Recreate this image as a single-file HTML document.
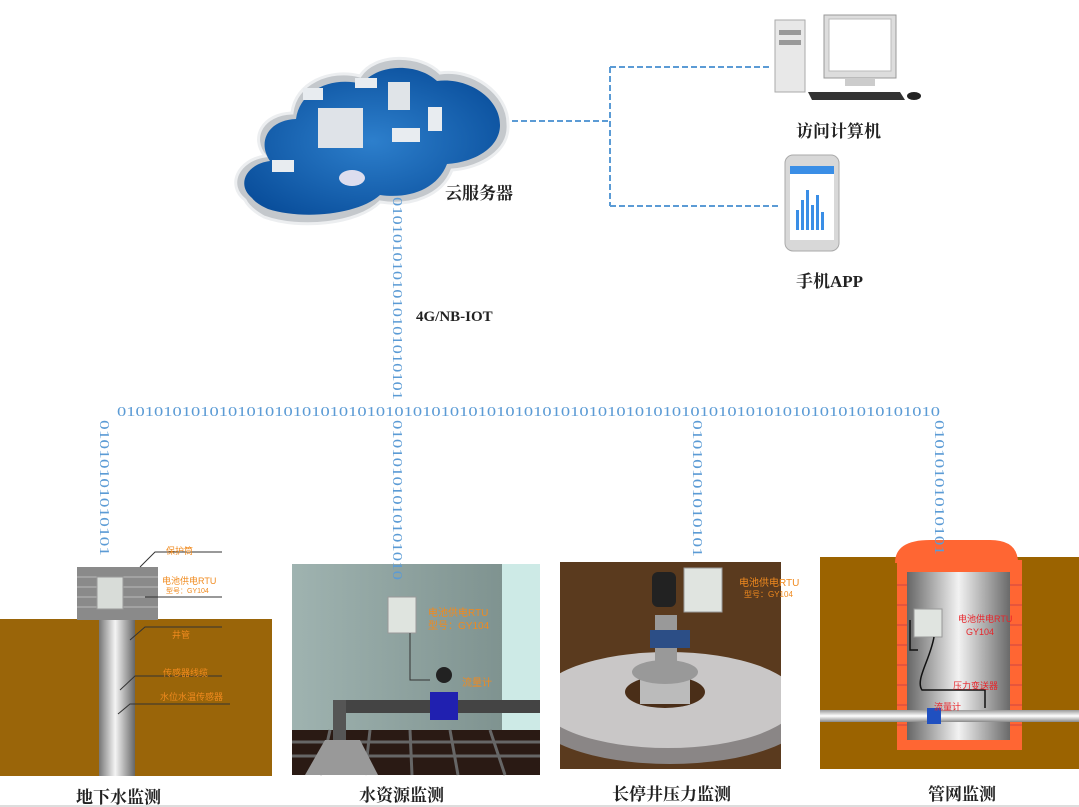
<!DOCTYPE html>
<html><head><meta charset="utf-8"><style>
body{margin:0;width:1079px;height:807px;background:#fff;overflow:hidden;position:relative;font-family:"Liberation Serif","Noto Serif CJK SC",serif}
svg{position:absolute;left:0;top:0}
</style></head><body>
<svg width="1079" height="807" viewBox="0 0 1079 807" xmlns="http://www.w3.org/2000/svg">
<defs>
<linearGradient id="pipe" x1="0" x2="1"><stop offset="0" stop-color="#777"/><stop offset=".45" stop-color="#f4f4f4"/><stop offset="1" stop-color="#666"/></linearGradient>
<linearGradient id="hpipe" y1="0" y2="1" x1="0" x2="0"><stop offset="0" stop-color="#999"/><stop offset=".5" stop-color="#fff"/><stop offset="1" stop-color="#888"/></linearGradient>
<linearGradient id="wall" x1="0" x2="1"><stop offset="0" stop-color="#9fb3b0"/><stop offset="1" stop-color="#7f9390"/></linearGradient>
<linearGradient id="cyl" x1="0" x2="1"><stop offset="0" stop-color="#666"/><stop offset=".5" stop-color="#f2f2f2"/><stop offset="1" stop-color="#6a6a6a"/></linearGradient>
<radialGradient id="cloud" cx=".5" cy=".5" r=".6"><stop offset="0" stop-color="#2d7fcc"/><stop offset="1" stop-color="#0a4f9c"/></radialGradient>
<clipPath id="p3"><rect x="560" y="562" width="221" height="207"/></clipPath>
</defs>
<!-- cloud -->
<path d="M245,200 C226,185 238,160 265,156 C250,138 262,114 292,113 C295,83 330,68 360,76 C375,53 420,53 440,73 C472,68 508,93 508,124 C510,150 482,168 452,170 C442,196 410,207 380,202 C358,224 300,230 264,217 C255,212 248,206 245,200 Z" fill="#c4c8cc" stroke="#eceef0" stroke-width="3"/>
<path d="M252,198 C236,185 246,164 270,161 C257,142 268,120 296,119 C300,90 332,76 362,84 C378,63 418,63 437,81 C468,77 500,98 500,125 C500,147 476,162 447,164 C437,190 408,199 380,195 C358,215 302,220 268,209 C261,206 255,202 252,198 Z" fill="url(#cloud)"/>
<rect x="318" y="108" width="45" height="40" fill="#dfe3e8"/><rect x="388" y="82" width="22" height="28" fill="#e0e4e8"/>
<rect x="303" y="88" width="20" height="12" fill="#e8ecf0"/><rect x="355" y="78" width="22" height="10" fill="#e8ecf0"/>
<rect x="392" y="128" width="28" height="14" fill="#e8ecf0"/><rect x="428" y="107" width="14" height="24" fill="#e8ecf0"/>
<rect x="272" y="160" width="22" height="12" fill="#e8ecf0"/><ellipse cx="352" cy="178" rx="13" ry="8" fill="#dde"/>
<!-- dashed lines -->
<g stroke="#5b9bd5" stroke-width="2" stroke-dasharray="6,3" fill="none">
<path d="M512,121 H610 M610,67 V206 M610,67 H772 M610,206 H778"/>
</g>
<!-- computer -->
<rect x="775" y="20" width="30" height="72" fill="#e8e8e8" stroke="#aaa"/>
<rect x="779" y="30" width="22" height="5" fill="#999"/><rect x="779" y="40" width="22" height="5" fill="#999"/>
<rect x="824" y="15" width="72" height="63" fill="#ddd" stroke="#999"/>
<rect x="829" y="19" width="62" height="52" fill="#fff" stroke="#bbb"/>
<rect x="845" y="78" width="30" height="8" fill="#ccc"/>
<path d="M808,92 L900,92 L905,100 L812,100 Z" fill="#333"/>
<ellipse cx="914" cy="96" rx="7" ry="4" fill="#222"/>
<!-- phone -->
<rect x="785" y="155" width="54" height="96" rx="8" fill="#d8d8d8" stroke="#aaa"/>
<rect x="790" y="166" width="44" height="74" fill="#fff"/>
<rect x="790" y="166" width="44" height="8" fill="#3a8ee6"/>
<g fill="#3a8ee6"><rect x="796" y="210" width="3" height="20"/><rect x="801" y="200" width="3" height="30"/><rect x="806" y="190" width="3" height="40"/><rect x="811" y="205" width="3" height="25"/><rect x="816" y="195" width="3" height="35"/><rect x="821" y="212" width="3" height="18"/></g>
<!-- panel 1 -->
<rect x="0" y="619" width="272" height="157" fill="#9a6509"/>
<rect x="77" y="567" width="81" height="53" fill="#8a8a8a"/>
<g stroke="#bbb" stroke-width="1"><path d="M77,577H158M77,587H158M77,597H158M77,607H158"/></g>
<rect x="99" y="620" width="36" height="156" fill="url(#pipe)"/>
<rect x="97" y="577" width="26" height="32" fill="#d8dcd8" stroke="#999"/>
<g stroke="#333" stroke-width="1" fill="none"><path d="M140,567 L155,552 H222 M145,597 H222 M130,640 L145,627 H222 M120,690 L135,676 H222 M118,714 L130,704 H230"/></g>
<g font-family="Liberation Sans,Noto Sans CJK SC,sans-serif" fill="#f08a1e" font-size="9">
<text x="166" y="554">保护筒</text><text x="162" y="584">电池供电RTU</text><text x="166" y="593" font-size="7">型号：GY104</text>
<text x="172" y="638">井管</text><text x="163" y="676">传感器线缆</text><text x="160" y="700">水位水温传感器</text></g>
<!-- panel 2 -->
<rect x="292" y="564" width="210" height="172" fill="url(#wall)"/>
<rect x="502" y="564" width="38" height="172" fill="#cdeae6"/>
<rect x="292" y="730" width="248" height="45" fill="#2a1a14"/>
<g stroke="#666" stroke-width="3"><path d="M292,742H540M292,756H540M330,730L320,775M370,730L365,775M410,730L412,775M450,730L458,775M490,730L505,775"/></g>
<path d="M305,775 L325,740 H360 L378,775 Z" fill="#999"/>
<rect x="340" y="700" width="200" height="13" fill="#444"/>
<rect x="333" y="700" width="13" height="40" fill="#555"/>
<rect x="430" y="692" width="28" height="28" fill="#2020b0"/><circle cx="444" cy="675" r="8" fill="#222"/>
<rect x="388" y="597" width="28" height="36" fill="#dfe4df" stroke="#999"/>
<path d="M410,633 V680 H430" stroke="#333" fill="none"/>
<g font-family="Liberation Sans,Noto Sans CJK SC,sans-serif" fill="#f08a1e" font-size="10">
<text x="428" y="616">电池供电RTU</text><text x="428" y="629">型号：GY104</text><text x="462" y="686">流量计</text></g>
<!-- panel 3 -->
<g clip-path="url(#p3)">
<rect x="560" y="562" width="221" height="207" fill="#5a3a1e"/>
<ellipse cx="670" cy="712" rx="140" ry="52" fill="#8a8686"/>
<ellipse cx="668" cy="700" rx="130" ry="48" fill="#c9c7c7"/>
<ellipse cx="665" cy="692" rx="40" ry="16" fill="#4a2e18"/>
<rect x="640" y="672" width="50" height="32" fill="#bbb"/>
<ellipse cx="665" cy="672" rx="33" ry="12" fill="#999"/>
<rect x="655" y="615" width="22" height="55" fill="#999"/>
<rect x="650" y="630" width="40" height="18" fill="#2c4e86"/>
<rect x="652" y="572" width="24" height="35" rx="6" fill="#222"/>
<rect x="684" y="568" width="38" height="44" fill="#e0e4e0" stroke="#999"/>
</g>
<g font-family="Liberation Sans,Noto Sans CJK SC,sans-serif" fill="#f08a1e" font-size="10">
<text x="739" y="586">电池供电RTU</text><text x="744" y="597" font-size="8">型号：GY104</text></g>
<!-- panel 4 -->
<rect x="820" y="557" width="259" height="212" fill="#9b6300"/>
<path d="M895,563 Q895,540 930,540 H990 Q1018,540 1018,563 Z" fill="#ff6633"/>
<rect x="897" y="560" width="125" height="190" fill="#ff6633"/>
<rect x="907" y="572" width="103" height="168" fill="url(#cyl)"/>
<g stroke="#c44" stroke-width="1" fill="none"><path d="M897,585H907M897,605H907M897,625H907M897,645H907M897,665H907M897,685H907M897,705H907M897,725H907M1010,585H1022M1010,605H1022M1010,625H1022M1010,645H1022M1010,665H1022M1010,685H1022M1010,705H1022M1010,725H1022"/></g>
<rect x="820" y="710" width="259" height="12" fill="url(#hpipe)"/>
<rect x="927" y="708" width="14" height="16" fill="#2050c0"/>
<rect x="914" y="609" width="28" height="28" fill="#e0e4e0" stroke="#999"/>
<path d="M934,637 C930,660 915,680 922,690 H985 V708 M910,620 V650 H918" stroke="#111" stroke-width="1.5" fill="none"/>
<g font-family="Liberation Sans,Noto Sans CJK SC,sans-serif" fill="#e8242a" font-size="9">
<text x="958" y="622">电池供电RTU</text><text x="966" y="635">GY104</text><text x="953" y="689">压力变送器</text><text x="934" y="710">流量计</text></g>
<!-- binary -->
<g font-family="Liberation Serif,serif" font-size="14" fill="#5b9bd5">
<text x="117" y="416" textLength="823" lengthAdjust="spacingAndGlyphs">01010101010101010101010101010101010101010101010101010101010101010101010101010101010101010</text>
<text transform="translate(393,197) rotate(90)" textLength="203" lengthAdjust="spacingAndGlyphs">0101010101010101010101</text>
<text transform="translate(393,420) rotate(90)" textLength="160" lengthAdjust="spacingAndGlyphs">01010101010101010</text>
<text transform="translate(100,420) rotate(90)" textLength="136" lengthAdjust="spacingAndGlyphs">01010101010101</text>
<text transform="translate(693,420) rotate(90)" textLength="137" lengthAdjust="spacingAndGlyphs">01010101010101</text>
<text transform="translate(935,420) rotate(90)" textLength="135" lengthAdjust="spacingAndGlyphs">01010101010101</text>
</g>
<!-- labels -->
<g font-family="Liberation Serif,Noto Serif CJK SC,serif" font-size="17" fill="#222" font-weight="bold">
<text x="445" y="199">云服务器</text>
<text x="796" y="137">访问计算机</text>
<text x="796" y="287">手机APP</text>
<text x="416" y="321" font-size="15">4G/NB-IOT</text>
<text x="76" y="803">地下水监测</text>
<text x="359" y="801">水资源监测</text>
<text x="612" y="800">长停井压力监测</text>
<text x="928" y="800">管网监测</text>
</g>
<rect x="0" y="805" width="1079" height="2" fill="#ddd"/>
</svg>
</body></html>
